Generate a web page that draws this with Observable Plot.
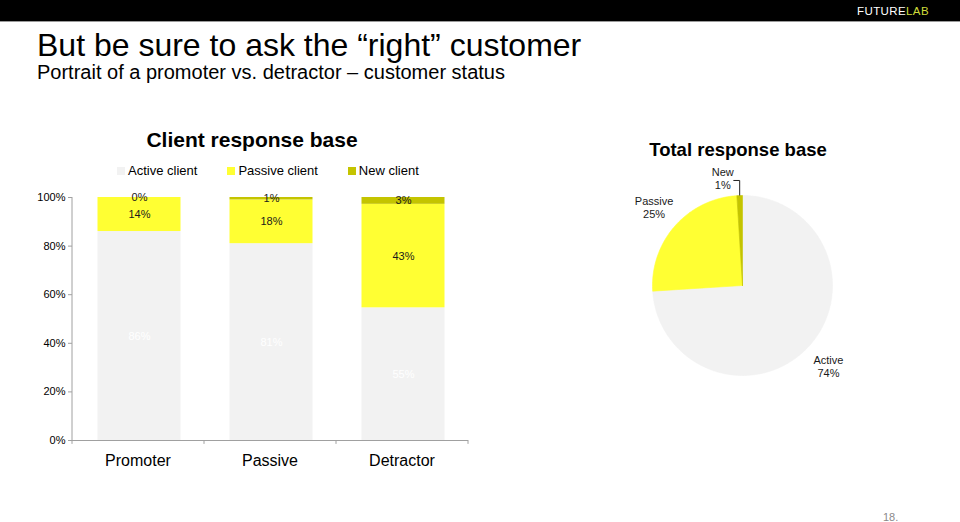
<!DOCTYPE html>
<html><head><meta charset="utf-8">
<script src="https://cdn.jsdelivr.net/npm/d3@7"></script>
<script src="https://cdn.jsdelivr.net/npm/@observablehq/plot@0.6"></script>
<style>
body{margin:0;background:#fff;font-family:"Liberation Sans",Arial,sans-serif;}
#page{position:relative;width:960px;height:522px;overflow:hidden;background:#fff;}
.abs{position:absolute;white-space:nowrap;}
#topbar{left:0;top:0;width:960px;height:21px;background:#000;border-bottom:1px solid #9a9a9a;}
#brand{left:857px;top:6px;font-size:11.5px;line-height:11px;letter-spacing:0.4px;color:#fff;}
#brand span{color:#cfdc3a;}
#title{left:37px;top:30px;font-size:32px;line-height:30px;color:#000;}
#subtitle{left:37px;top:62px;font-size:20px;line-height:20px;color:#000;}
#barTitle{left:102px;width:300px;text-align:center;top:128px;font-size:21px;line-height:24px;font-weight:bold;color:#000;}
#legend{left:117px;top:163px;display:flex;gap:30px;font-size:13px;line-height:16px;color:#000;}
#legend .item{display:flex;align-items:center;gap:3px;}
#legend .sw{width:8px;height:8px;display:inline-block;}
#pieTitle{left:588px;width:300px;text-align:center;top:140px;font-size:18.5px;line-height:20px;font-weight:bold;color:#000;}
#barChart{left:0;top:180px;}
#pieChart{left:600px;top:160px;}
#pagenum{left:883px;top:511px;font-size:11px;color:#8a8a8a;}
</style>
</head>
<body>
<div id="page">
  <div id="topbar" class="abs"></div>
  <div id="brand" class="abs">FUTURE<span>LAB</span></div>
  <div id="title" class="abs">But be sure to ask the “right” customer</div>
  <div id="subtitle" class="abs">Portrait of a promoter vs. detractor – customer status</div>
  <div id="barTitle" class="abs">Client response base</div>
  <div id="legend" class="abs"></div>
  <div id="pieTitle" class="abs">Total response base</div>
  <div id="barChart" class="abs"></div>
  <div id="pieChart" class="abs"></div>
  <div id="pagenum" class="abs">18.</div>
</div>
<script>
// ---- data ----
const categories = ["Promoter", "Passive", "Detractor"];
const seriesNames = ["Active client", "Passive client", "New client"];
const seriesColors = ["#f2f2f2", "#ffff33", "#c4c400"];
const activeValues = [86, 81, 54.6];
const passiveValues = [14, 18, 42.6];
const newValues = [0, 1, 2.8];
const yTicks = [0, 20, 40, 60, 80, 100];

const pieLabels = ["Active", "Passive", "New"];
const pieValues = [74, 25, 1];

const FONT = '"Liberation Sans", Arial, sans-serif';
const fmt = v => Math.round(v) + "%";

// ---- legend ----
const legend = document.getElementById("legend");
seriesNames.forEach((name, i) => {
  const item = document.createElement("div");
  item.className = "item";
  const sw = document.createElement("span");
  sw.className = "sw";
  sw.style.background = seriesColors[i];
  const t = document.createElement("span");
  t.textContent = name;
  item.appendChild(sw); item.appendChild(t);
  legend.appendChild(item);
});

// ---- stacked bars ----
const rows = [];
[activeValues, passiveValues, newValues].forEach((vals, s) =>
  vals.forEach((v, i) => rows.push({category: categories[i], series: seriesNames[s], value: v})));

const axisGray = "#a0a0a0";
const bar = Plot.plot({
  width: 480, height: 290,
  marginLeft: 72, marginRight: 12, marginTop: 17, marginBottom: 30,
  style: {fontFamily: FONT, fontSize: "11px", color: "#000", background: "transparent", overflow: "visible"},
  x: {domain: categories, paddingInner: 0.37, paddingOuter: 0.185, label: null},
  y: {domain: [0, 100], label: null},
  color: {domain: seriesNames, range: seriesColors},
  marks: [
    Plot.barY(rows, {x: "category", y: "value", fill: "series", dx: 1.5}),
    Plot.text(rows, Plot.stackY({x: "category", y: "value", z: "series", dx: 1.5,
      text: d => d.series === seriesNames[0] ? "" : fmt(d.value), fill: "#1a1a1a", fontSize: 11})),
    Plot.text(rows, Plot.stackY({x: "category", y: "value", z: "series", dx: 1.5,
      text: d => d.series === seriesNames[0] ? fmt(d.value) : "", fill: "#ffffff", fontSize: 11})),
    Plot.ruleX([categories[0]], {dx: -66, y1: -1.6, y2: 100, stroke: axisGray}),
    Plot.ruleX(categories, {dx: 66, y1: -1.6, y2: 0, stroke: axisGray}),
    Plot.ruleY([0], {stroke: axisGray}),
    Plot.axisY({ticks: yTicks, tickSize: 4, tickPadding: 3, tickFormat: d => d + "%", stroke: axisGray, fill: "#000", fontSize: 11}),
    Plot.axisX({tickSize: 0, tickPadding: 14, fontSize: 16, fill: "#000"})
  ]
});
document.getElementById("barChart").appendChild(bar);

// ---- pie ----
const arcs = d3.pie().sort(null).value(d => d)(pieValues);
const slices = arcs.map(a => {
  const pts = [{x: 0, y: 0}];
  const n = Math.max(2, Math.ceil((a.endAngle - a.startAngle) / (Math.PI / 180)));
  for (let j = 0; j <= n; j++) {
    const t = a.startAngle + (a.endAngle - a.startAngle) * j / n;
    pts.push({x: Math.sin(t), y: Math.cos(t)});
  }
  pts.push({x: 0, y: 0});
  return pts;
});
const labelRows = arcs.map((a, k) => {
  const m = (a.startAngle + a.endAngle) / 2;
  return {label: pieLabels[k] + "\n" + pieValues[k] + "%", value: pieValues[k],
    x: 1.31 * Math.sin(m), y: 1.31 * Math.cos(m), ex: Math.sin(m), ey: Math.cos(m)};
});
const bigLabels = labelRows.filter(d => d.value >= 5);
const smallLabels = labelRows.filter(d => d.value < 5);

const pie = Plot.plot({
  width: 300, height: 240,
  marginLeft: 52, marginRight: 68, marginTop: 35, marginBottom: 25,
  style: {fontFamily: FONT, fontSize: "11px", color: "#000", background: "transparent", overflow: "visible"},
  x: {domain: [-1, 1], axis: null},
  y: {domain: [-1, 1], axis: null},
  marks: [
    ...slices.map((pts, k) => Plot.line(pts, {x: "x", y: "y", fill: seriesColors[k], stroke: seriesColors[k], strokeWidth: 0.6})),
    Plot.text(bigLabels, {x: "x", y: "y", text: "label", fill: "#1a1a1a", fontSize: 11, lineHeight: 1.15}),
    Plot.text(smallLabels, {x: "x", y: "y", text: "label", fill: "#1a1a1a", fontSize: 11, lineHeight: 1.15, dx: -16, dy: 11}),
    Plot.link(smallLabels, {x1: "ex", y1: "ey", x2: d => d.ex - 0.07, y2: d => 1.167, curve: "step-before", stroke: "#222", strokeWidth: 1})
  ]
});
document.getElementById("pieChart").appendChild(pie);
</script>
</body></html>
